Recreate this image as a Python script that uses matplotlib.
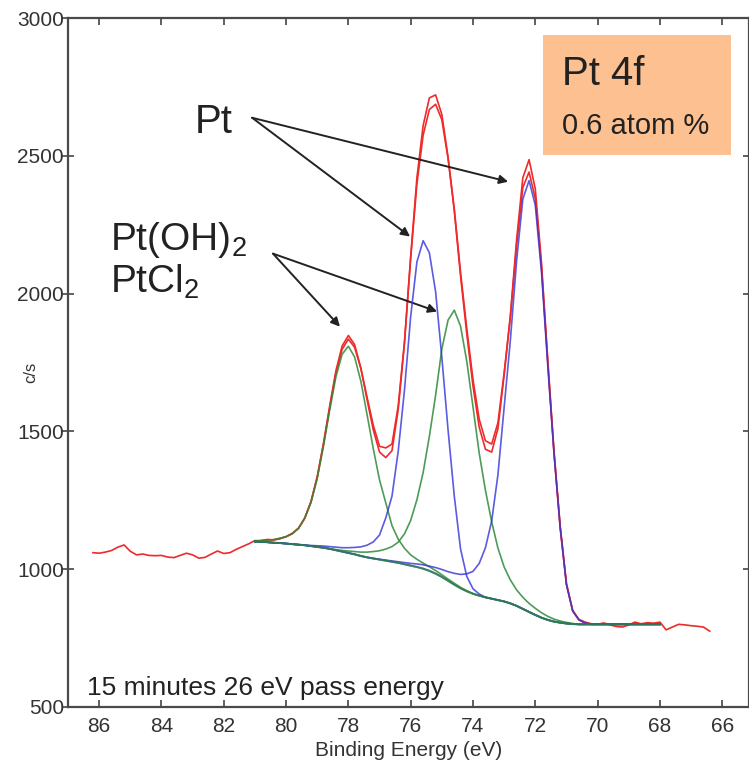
import matplotlib
matplotlib.use('Agg')
import matplotlib.pyplot as plt
from matplotlib.patches import Rectangle
import numpy as np

plt.rcParams['font.family'] = ['Liberation Sans', 'DejaVu Sans']
plt.rcParams['mathtext.fontset'] = 'custom'
plt.rcParams['mathtext.rm'] = 'Liberation Sans'
plt.rcParams['mathtext.it'] = 'Liberation Sans:italic'
plt.rcParams['mathtext.bf'] = 'Liberation Sans:bold'

# fitted region, 81.0 -> 68.0 eV in 0.2 eV steps
e_fit = np.round(np.arange(81.0, 67.9, -0.2), 1)

background = [1100, 1099, 1098, 1096, 1095, 1093, 1091, 1089, 1087, 1084,
              1081, 1078, 1074, 1069, 1064, 1059, 1054, 1048, 1043, 1039,
              1035, 1031, 1027, 1023, 1018, 1013, 1008, 1002, 994, 984,
              972, 958, 944, 931, 920, 911, 904, 898, 893, 888,
              883, 876, 867, 856, 845, 834, 824, 816, 810, 806,
              803, 801, 800, 800, 800, 800, 800, 800, 800, 800,
              800, 800, 800, 800, 800, 800]

# component heights above background
oh_52 = [2, 5, 8, 11, 17, 25, 38, 60, 98, 158,
         248, 368, 503, 629, 716, 750, 716, 634, 518, 398,
         289, 210, 131, 86, 58, 39, 28, 20, 15, 11,
         8, 6, 5, 3, 2, 0, 0, 0, 0, 0,
         0, 0, 0, 0, 0, 0, 0, 0, 0, 0,
         0, 0, 0, 0, 0, 0, 0, 0, 0, 0,
         0, 0, 0, 0, 0, 0]
pt_52 = [0, 0, 0, 0, 0, 0, 0, 0, 0, 2,
         4, 6, 8, 11, 14, 19, 25, 33, 44, 60,
         89, 155, 238, 405, 631, 904, 1107, 1190, 1154, 1023,
         797, 547, 321, 143, 54, 18, 6, 0, 0, 0,
         0, 0, 0, 0, 0, 0, 0, 0, 0, 0,
         0, 0, 0, 0, 0, 0, 0, 0, 0, 0,
         0, 0, 0, 0, 0, 0]
oh_72 = [0, 0, 0, 0, 0, 0, 0, 0, 0, 0,
         0, 0, 0, 2, 4, 7, 10, 14, 19, 25,
         32, 42, 55, 75, 110, 164, 244, 349, 488, 647,
         827, 946, 996, 951, 835, 678, 517, 388, 279, 189,
         125, 85, 58, 42, 31, 24, 18, 13, 9, 6,
         4, 2, 0, 0, 0, 0, 0, 0, 0, 0,
         0, 0, 0, 0, 0, 0]
pt_72 = [0, 0, 0, 0, 0, 0, 0, 0, 0, 0,
         0, 0, 0, 0, 0, 0, 0, 0, 0, 0,
         1, 2, 3, 4, 6, 8, 11, 14, 17, 22,
         27, 33, 41, 50, 63, 81, 117, 180, 282, 454,
         704, 955, 1252, 1487, 1565, 1487, 1252, 923, 610, 344,
         141, 47, 16, 5, 0, 0, 0, 0, 0, 0,
         0, 0, 0, 0, 0, 0]

# measured spectrum, 86.2 -> 66.4 eV
e_raw = np.round(np.arange(86.2, 66.3, -0.2), 1)
counts_raw = [1060, 1058, 1062, 1068, 1080, 1088, 1065, 1052, 1055, 1050,
              1049, 1050, 1044, 1042, 1050, 1058, 1052, 1040, 1043, 1055,
              1066, 1057, 1060, 1072, 1082, 1092,
              1104, 1103, 1108, 1106, 1110, 1118, 1130, 1148, 1186, 1246,
              1336, 1456, 1592, 1720, 1810, 1848, 1815, 1730, 1615, 1505,
              1425, 1405, 1430, 1580, 1820, 2135, 2420, 2610, 2710, 2721,
              2650, 2495, 2300, 2065, 1855, 1665, 1515, 1435, 1425, 1510,
              1705, 1920, 2195, 2420, 2486, 2380, 2110, 1760, 1425, 1150,
              945, 850, 818, 808, 802, 800, 805, 798, 792, 790,
              798, 808, 802, 806, 804, 808,
              780, 790, 800, 798, 795, 793, 790, 775]

bg = np.array(background)
envelope = bg + np.array(oh_52) + np.array(pt_52) + np.array(oh_72) + np.array(pt_72)

red = '#ee2a2a'
green = '#2f8a3a'
blue = '#3232dc'

fig = plt.figure(figsize=(7.49, 7.70), dpi=100)
ax = fig.add_axes([68/749, 1-707/770, (749-68)/749, (707-18)/770])

ax.plot(e_raw, counts_raw, color=red, lw=1.2, zorder=2)
ax.plot(e_fit, envelope, color=red, lw=1.2, zorder=2)
ax.plot(e_fit, bg, color=blue, lw=1.3, alpha=0.8, zorder=3)
ax.plot(e_fit, bg + np.array(oh_52), color=green, lw=1.2, alpha=0.85, zorder=3)
ax.plot(e_fit, bg + np.array(oh_72), color=green, lw=1.2, alpha=0.85, zorder=3)
ax.plot(e_fit, bg + np.array(pt_52), color=blue, lw=1.2, alpha=0.8, zorder=4)
ax.plot(e_fit, bg + np.array(pt_72), color=blue, lw=1.2, alpha=0.8, zorder=4)
ax.plot(e_fit, bg, color=green, lw=1.5, alpha=0.75, zorder=4)

ax.set_xlim(87, 65.14)
ax.set_ylim(500, 3000)
ax.set_xticks(range(86, 65, -2))
ax.set_yticks([500, 1000, 1500, 2000, 2500, 3000])
ax.tick_params(axis='x', direction='in', top=True, length=5, width=1.2,
               labelsize=15, labelcolor='#333333', color='#444444', pad=7)
ax.tick_params(axis='y', direction='inout', right=True, length=8, width=1.2,
               labelsize=15, labelcolor='#333333', color='#444444', pad=-1)
for s in ax.spines.values():
    s.set_color('#4a4a4a')
    s.set_linewidth(1.6)
ax.set_xlabel('Binding Energy (eV)', fontsize=15, color='#333333', labelpad=4)
ax.set_ylabel('c/s', fontsize=12, color='#333333')
ax.yaxis.set_label_coords(-0.044, 0.486)

arrow = dict(arrowstyle='-|>', color='#222222', lw=1.4, mutation_scale=13,
             shrinkA=0, shrinkB=0)
ax.text(82.92, 2583, 'Pt', fontsize=29, color='#222222', va='baseline')
ax.annotate('', xy=(76.02, 2207), xytext=(81.09, 2638), arrowprops=arrow)
ax.annotate('', xy=(72.87, 2406), xytext=(81.09, 2638), arrowprops=arrow)

ax.text(85.65, 2159, 'Pt(OH)$_2$', fontsize=28, color='#222222', va='baseline')
ax.text(85.65, 2004, 'PtCl$_2$', fontsize=28, color='#222222', va='baseline')
ax.annotate('', xy=(78.27, 1880), xytext=(80.42, 2145), arrowprops=arrow)
ax.annotate('', xy=(75.15, 1935), xytext=(80.42, 2145), arrowprops=arrow)

ax.add_patch(Rectangle((543/749, 1-155/770), 188/749, 120/770,
                       transform=fig.transFigure, facecolor='#fdc090',
                       edgecolor='none', zorder=6, clip_on=False))
fig.text(562/749, 1-85/770, 'Pt 4f', fontsize=29, color='#222222',
         va='baseline', zorder=7)
fig.text(562/749, 1-134/770, '0.6 atom %', fontsize=21, color='#222222',
         va='baseline', zorder=7)

ax.text(86.4, 542, '15 minutes 26 eV pass energy', fontsize=19, color='#222222',
        va='baseline')

fig.savefig('out.png', dpi=100)
